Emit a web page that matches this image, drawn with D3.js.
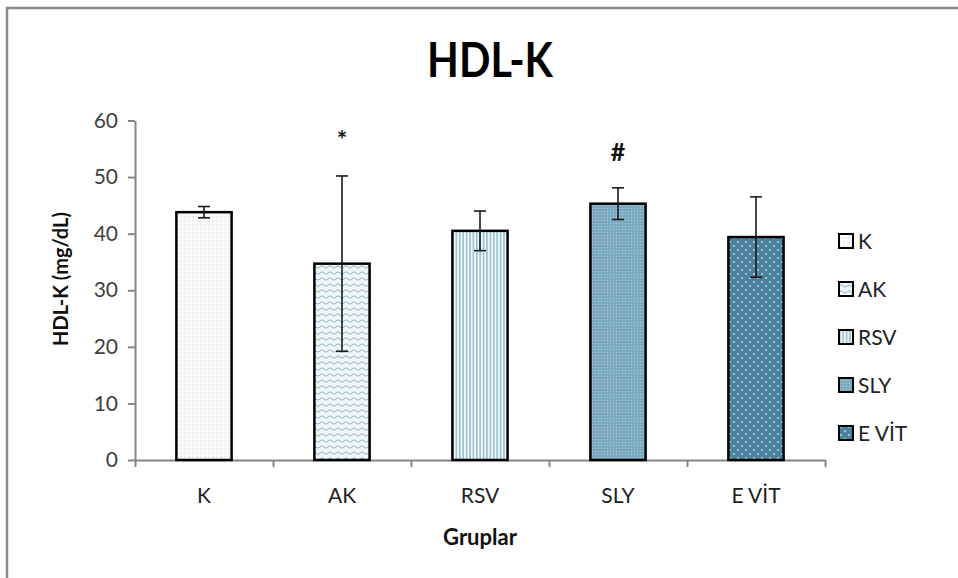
<!DOCTYPE html>
<html>
<head>
<meta charset="utf-8">
<script src="https://cdn.jsdelivr.net/npm/d3@7"></script>
<style>
  body { margin: 0; background: #fff; }
  svg { display: block; font-family: Lato, 'Open Sans', sans-serif; }
</style>
</head>
<body>
<div id="chart"></div>
<script>
// values
const groups = ['K', 'AK', 'RSV', 'SLY', 'E VİT'];
const means = [43.8, 34.7, 40.5, 45.3, 39.4];
const errors = [1.0, 15.5, 3.5, 2.8, 7.1];
const marks = ['', '*', '', '#', ''];
const yTicks = [0, 10, 20, 30, 40, 50, 60];

const width = 958,
  height = 578;
const plot = { left: 135, right: 825, top: 120.5, bottom: 460 };

const svg = d3
  .select('#chart')
  .append('svg')
  .attr('width', width)
  .attr('height', height);

// fill patterns
const defs = svg.append('defs');

let pK = defs.append('pattern').attr('id', 'pK').attr('patternUnits', 'userSpaceOnUse')
  .attr('width', 4).attr('height', 4);
pK.append('rect').attr('width', 4).attr('height', 4).attr('fill', '#fbfbfb');
pK.append('circle').attr('cx', 1).attr('cy', 1).attr('r', 0.7).attr('fill', '#d4d4d4');

let pAK = defs.append('pattern').attr('id', 'pAK').attr('patternUnits', 'userSpaceOnUse')
  .attr('width', 8).attr('height', 6);
pAK.append('rect').attr('width', 8).attr('height', 6).attr('fill', '#f2f7f9');
pAK.append('path').attr('d', 'M0,3 Q2,0.5 4,3 T8,3').attr('fill', 'none')
  .attr('stroke', '#8ab0c2').attr('stroke-width', 1);

let pRSV = defs.append('pattern').attr('id', 'pRSV').attr('patternUnits', 'userSpaceOnUse')
  .attr('width', 3.4).attr('height', 4);
pRSV.append('rect').attr('width', 3.4).attr('height', 4).attr('fill', '#f2f7f9');
pRSV.append('rect').attr('width', 1.5).attr('height', 4).attr('fill', '#95bccd');

let pSLY = defs.append('pattern').attr('id', 'pSLY').attr('patternUnits', 'userSpaceOnUse')
  .attr('width', 3).attr('height', 3);
pSLY.append('rect').attr('width', 3).attr('height', 3).attr('fill', '#7aa8bf');
pSLY.append('circle').attr('cx', 1.5).attr('cy', 1.5).attr('r', 0.7).attr('fill', '#a6c8d7');

let pEV = defs.append('pattern').attr('id', 'pEV').attr('patternUnits', 'userSpaceOnUse')
  .attr('width', 8).attr('height', 8);
pEV.append('rect').attr('width', 8).attr('height', 8).attr('fill', '#4b839f');
pEV.append('circle').attr('cx', 2).attr('cy', 2).attr('r', 1).attr('fill', '#bcd7e3');
pEV.append('circle').attr('cx', 6).attr('cy', 6).attr('r', 1).attr('fill', '#bcd7e3');

const fills = ['url(#pK)', 'url(#pAK)', 'url(#pRSV)', 'url(#pSLY)', 'url(#pEV)'];

// outer frame
svg.append('path')
  .attr('d', 'M7,' + height + ' V8 H' + width)
  .attr('fill', 'none')
  .attr('stroke', '#8a8a8a')
  .attr('stroke-width', 2.5);

let xScale = d3.scaleBand().domain(groups).range([plot.left, plot.right])
  .paddingInner(0.6).paddingOuter(0.3);
let xEdges = d3.scaleLinear().domain([0, groups.length]).range([plot.left, plot.right]);
let yScale = d3.scaleLinear().domain([0, 60]).range([plot.bottom, plot.top]);

// title (condensed like the original)
svg.append('text')
  .attr('transform', 'translate(490,77) scale(0.88,1)')
  .attr('text-anchor', 'middle')
  .attr('font-size', 47)
  .attr('font-weight', 'bold')
  .attr('fill', '#000')
  .text('HDL-K');

// y axis
let yAxis = d3.axisLeft(yScale).tickValues(yTicks).tickSize(7).tickSizeOuter(0).tickPadding(10);
let gy = svg.append('g')
  .attr('transform', 'translate(' + plot.left + ',0)')
  .call(yAxis);
gy.select('.domain').attr('stroke', '#868686').attr('stroke-width', 2);
gy.selectAll('.tick line').attr('stroke', '#868686').attr('stroke-width', 2);
gy.selectAll('.tick text').attr('font-size', 21).attr('fill', '#404040')
  .attr('font-family', 'Lato, sans-serif');

// x axis, ticks between categories
let xAxis = d3.axisBottom(xEdges).tickValues(d3.range(groups.length + 1))
  .tickFormat('').tickSize(7).tickSizeOuter(0);
let gx = svg.append('g')
  .attr('transform', 'translate(0,' + plot.bottom + ')')
  .call(xAxis);
gx.select('.domain').attr('stroke', '#868686').attr('stroke-width', 2);
gx.selectAll('.tick line').attr('stroke', '#868686').attr('stroke-width', 2);

let xLabels = d3.axisBottom(xScale).tickSize(0).tickPadding(28);
let gl = svg.append('g')
  .attr('transform', 'translate(0,' + plot.bottom + ')')
  .call(xLabels);
gl.select('.domain').remove();
gl.selectAll('.tick text').attr('font-size', 21).attr('fill', '#222')
  .attr('font-family', 'Lato, sans-serif');

// bars
svg.append('g')
  .selectAll('rect')
  .data(groups)
  .join('rect')
  .attr('x', (d) => xScale(d))
  .attr('y', (d, i) => yScale(means[i]))
  .attr('width', xScale.bandwidth())
  .attr('height', (d, i) => yScale(0) - yScale(means[i]))
  .attr('fill', (d, i) => fills[i])
  .attr('stroke', '#000')
  .attr('stroke-width', 2.5);

// error bars
let eb = svg.append('g')
  .selectAll('g')
  .data(groups)
  .join('g')
  .attr('transform', (d) => 'translate(' + (xScale(d) + xScale.bandwidth() / 2) + ',0)')
  .attr('stroke', '#1a1a1a')
  .attr('stroke-width', 1.6);
eb.append('line')
  .attr('y1', (d, i) => yScale(means[i] + errors[i]))
  .attr('y2', (d, i) => yScale(means[i] - errors[i]));
eb.append('line')
  .attr('x1', -6).attr('x2', 6)
  .attr('y1', (d, i) => yScale(means[i] + errors[i]))
  .attr('y2', (d, i) => yScale(means[i] + errors[i]));
eb.append('line')
  .attr('x1', -6).attr('x2', 6)
  .attr('y1', (d, i) => yScale(means[i] - errors[i]))
  .attr('y2', (d, i) => yScale(means[i] - errors[i]));

// significance marks
svg.append('g')
  .selectAll('text')
  .data(groups)
  .join('text')
  .attr('x', (d) => xScale(d) + xScale.bandwidth() / 2)
  .attr('y', (d, i) => yScale(means[i] + errors[i]) - 27)
  .attr('text-anchor', 'middle')
  .attr('font-size', 25)
  .attr('font-weight', 'bold')
  .attr('fill', '#111')
  .text((d, i) => marks[i]);

// axis titles
svg.append('text')
  .attr('transform', 'translate(68,279) rotate(-90)')
  .attr('text-anchor', 'middle')
  .attr('font-size', 20)
  .attr('font-weight', 'bold')
  .attr('fill', '#111')
  .text('HDL-K (mg/dL)');

svg.append('text')
  .attr('x', 480)
  .attr('y', 545)
  .attr('text-anchor', 'middle')
  .attr('font-size', 22)
  .attr('font-weight', 'bold')
  .attr('fill', '#111')
  .text('Gruplar');

// legend
let legendY = d3.scalePoint().domain(groups).range([241, 433]);
let lg = svg.append('g')
  .selectAll('g')
  .data(groups)
  .join('g')
  .attr('transform', (d) => 'translate(839,' + legendY(d) + ')');
lg.append('rect')
  .attr('x', 0).attr('y', -7)
  .attr('width', 14).attr('height', 14)
  .attr('fill', (d, i) => fills[i])
  .attr('stroke', '#000')
  .attr('stroke-width', 2);
lg.append('text')
  .attr('x', 19)
  .attr('y', 8)
  .attr('font-size', 21)
  .attr('fill', '#222')
  .text((d) => d);
</script>
</body>
</html>
